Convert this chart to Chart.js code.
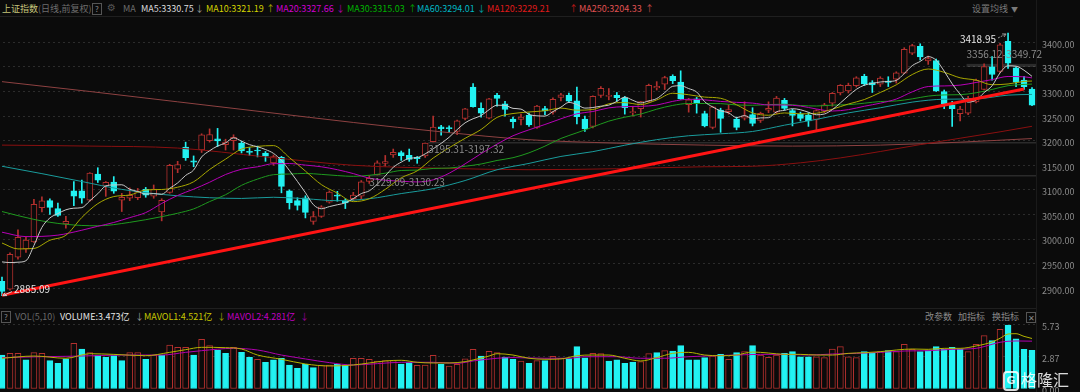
<!DOCTYPE html>
<html><head><meta charset="utf-8">
<script src="https://cdn.jsdelivr.net/npm/chart.js@4.4.0/dist/chart.umd.min.js"></script>
<style>
html,body{margin:0;padding:0;background:#0b0b0b;width:1080px;height:392px;overflow:hidden;position:relative;font-family:"Noto Sans CJK SC","Noto Sans",sans-serif;}
.t{position:absolute;font-size:9px;line-height:12px;white-space:nowrap;}
.box{position:absolute;border:1px solid #555;color:#8a8a8a;font-size:8px;line-height:9px;text-align:center;width:8px;height:10px;}
canvas{position:absolute;}
.ln{position:absolute;background:#1f1f1f;}
</style></head><body>
<div class="ln" style="left:0;top:16px;width:1013px;height:1px;"></div>
<div class="ln" style="left:0;top:308px;width:1037px;height:1px;"></div>
<div class="ln" style="left:1036px;top:0;width:1px;height:392px;background:#1a1a1a"></div>

<div class="t" style="left:2px;top:3px;color:#c6c67c">上证指数</div>
<div class="t" style="left:38px;top:3px;color:#6e6e6e">(日线,前复权)</div>
<div class="box" style="left:92px;top:3px;">?</div>
<div class="t" style="left:107px;top:2px;color:#555;font-family:'DejaVu Sans';font-size:10px">⚙</div>
<div class="t" style="left:123px;top:3px;color:#6e6e6e">MA</div>
<div class="t" style="left:141px;top:3px;color:#dcdcdc">MA5:3330.75</div>
<div class="t" style="left:195px;top:3px;color:#9a9a9a">↓</div>
<div class="t" style="left:206px;top:3px;color:#d4d400">MA10:3321.19</div>
<div class="t" style="left:266px;top:3px;color:#a0a000">↑</div>
<div class="t" style="left:276px;top:3px;color:#d000d0">MA20:3327.66</div>
<div class="t" style="left:336px;top:3px;color:#b000b0">↓</div>
<div class="t" style="left:347px;top:3px;color:#00b400">MA30:3315.03</div>
<div class="t" style="left:408px;top:3px;color:#009a00">↑</div>
<div class="t" style="left:417px;top:3px;color:#00b8c4">MA60:3294.01</div>
<div class="t" style="left:477px;top:3px;color:#00a0aa">↓</div>
<div class="t" style="left:487px;top:3px;color:#e01a1a">MA120:3229.21</div>
<div class="t" style="left:569px;top:3px;color:#c01818">↑</div>
<div class="t" style="left:579px;top:3px;color:#e05252">MA250:3204.33</div>
<div class="t" style="left:645px;top:3px;color:#c04848">↑</div>
<div class="t" style="left:972px;top:3px;color:#7a7a7a">设置均线</div>
<div class="t" style="left:1011px;top:3px;color:#7a7a7a;font-size:7px">▼</div>

<div class="box" style="left:1px;top:311px;">?</div>
<div class="t" style="left:15px;top:311px;color:#6a6a6a">VOL(5,10)</div>
<div class="t" style="left:60px;top:311px;color:#e6e6e6">VOLUME:3.473亿</div>
<div class="t" style="left:135px;top:311px;color:#9a9a9a">↓</div>
<div class="t" style="left:144px;top:311px;color:#c8c800">MAVOL1:4.521亿</div>
<div class="t" style="left:217px;top:311px;color:#a0a000">↓</div>
<div class="t" style="left:227px;top:311px;color:#c000c0">MAVOL2:4.281亿</div>
<div class="t" style="left:300px;top:311px;color:#a000a0">↓</div>
<div class="t" style="left:925px;top:311px;color:#8a8a8a">改参数</div>
<div class="t" style="left:958px;top:311px;color:#8a8a8a">加指标</div>
<div class="t" style="left:992px;top:311px;color:#8a8a8a">换指标</div>
<div class="box" style="left:1026px;top:312px;font-size:8px;line-height:9px;height:9px;">✕</div>

<canvas id="pc" width="1082" height="288" style="left:-2px;top:17px;"></canvas>
<canvas id="vc" width="1082" height="83" style="left:-2px;top:309px;"></canvas>

<div style="position:absolute;left:1003px;top:371px;width:12px;height:16px;border:2px solid rgba(255,255,255,0.85);border-radius:4px;color:rgba(255,255,255,0.85);font:bold 11px 'DejaVu Sans';line-height:16px;text-align:center;">G</div>
<div class="t" style="left:1021px;top:369px;font-size:16px;line-height:20px;color:rgba(255,255,255,0.85)">格隆汇</div>

<script>
// ---------- DATA ----------
const opens=[2914,2898,2963,2980,2994,3064,3078,3062,3031,3098,3098,3079,3132,3108,3116,3079,3083,3084,3101,3087,3055,3095,3142,3187,3159,3181,3200,3204,3192,3200,3195,3178,3180,3175,3155,3166,3098,3078,3084,3036,3046,3075,3089,3078,3082,3087,3117,3131,3154,3171,3176,3170,3166,3169,3198,3228,3226,3219,3245,3309,3266,3246,3292,3275,3244,3243,3252,3227,3265,3258,3288,3292,3281,3244,3229,3292,3290,3292,3287,3257,3265,3280,3307,3315,3331,3319,3273,3285,3255,3227,3262,3259,3244,3246,3253,3241,3262,3258,3282,3261,3254,3252,3243,3260,3276,3297,3301,3312,3331,3318,3315,3321,3325,3337,3378,3392,3362,3363,3300,3273,3255,3256,3279,3304,3350,3341,3402,3348,3323,3305];
const highs=[2923,2972,3019,3004,3081,3086,3082,3073,3046,3117,3120,3135,3145,3117,3127,3093,3104,3103,3105,3110,3082,3152,3158,3197,3169,3214,3224,3225,3203,3212,3199,3186,3189,3178,3171,3168,3100,3084,3088,3056,3068,3098,3097,3082,3095,3119,3129.09,3159,3170,3183,3179,3183,3168,3195.31,3250,3231,3230,3242,3266,3316,3277,3286,3296,3280,3248,3254,3256,3272,3270,3287,3296,3297,3309,3250,3291,3310,3306,3298,3290,3270,3280,3315,3320,3331,3334,3342,3286,3288,3260,3270,3266,3273,3248,3279,3267,3258,3279,3290,3286,3264,3258,3257,3263,3276,3298,3314,3317,3330,3335,3322,3330,3330,3340,3389,3396,3397,3372,3366,3303,3280,3270,3290,3325,3356,3371,3398,3418.95,3350,3331,3308];
const lows=[2885.09,2896,2959,2973,2993,3055,3050,3046,3022,3068,3073,3077,3115,3087,3093,3056,3078,3080,3085,3083,3037,3093,3135,3160,3147,3176,3197,3188,3181,3181,3175,3170,3167,3158,3150,3094,3061,3059,3043,3030,3044,3073,3077,3062,3078,3082,3113,3130.23,3148,3166,3160,3158,3154,3166,3197.32,3211,3217,3212,3242,3268,3248,3244,3270,3250,3226,3232,3229,3225,3253,3254,3281,3279,3234,3219,3226,3288,3283,3280,3254,3250,3248,3278,3303,3304,3316,3284,3258,3256,3228,3224,3217,3254,3222,3242,3230,3237,3257,3255,3262,3230,3240,3229,3222,3257,3270,3293,3297,3309,3312,3298,3310,3310,3317,3336,3375,3364,3355,3300,3265,3229,3240,3253,3277,3303,3323,3338,3347,3310,3304,3271];
const closes=[2893.48,2969.20,3003.37,2997.81,3070.80,3077.82,3064.49,3048.29,3036.13,3087.29,3083.40,3134.08,3119.98,3115.43,3097.24,3085.04,3088.94,3096.91,3089.31,3101.69,3078.55,3149.75,3151.34,3165.47,3156.14,3211.81,3212.53,3199.62,3197.35,3206.95,3179.04,3176.33,3179.05,3168.65,3167.86,3107.12,3073.77,3068.41,3054.43,3045.87,3065.56,3095.57,3087.40,3073.70,3089.26,3116.51,3123.52,3155.22,3157.64,3176.08,3169.51,3161.84,3163.45,3195.31,3227.59,3224.24,3224.41,3240.28,3264.81,3269.32,3255.67,3284.92,3285.67,3263.41,3238.70,3248.09,3232.11,3270.38,3260.67,3284.16,3293.28,3280.49,3249.03,3224.02,3290.34,3306.52,3291.15,3287.48,3267.16,3258.03,3279.61,3312.35,3310.65,3328.39,3322.03,3285.10,3283.25,3276.09,3230.08,3268.70,3245.31,3263.31,3226.89,3250.55,3234.91,3255.65,3265.65,3286.65,3265.65,3251.40,3245.38,3240.06,3261.25,3272.86,3296.40,3312.56,3312.63,3327.65,3315.36,3313.57,3327.18,3318.36,3338.15,3385.61,3393.33,3370.14,3367.06,3301.26,3275.41,3264.87,3264.10,3285.88,3323.27,3350.46,3334.50,3395.00,3357.67,3319.15,3309.55,3272.36];
const volumes=[3.04,3.19,3.19,2.60,3.25,3.19,2.54,2.30,2.69,4.09,3.58,3.25,3.04,2.84,2.98,2.54,3.25,3.25,2.66,3.04,3.04,3.94,3.73,3.73,3.04,4.45,3.88,3.49,3.19,3.73,3.28,2.84,2.66,2.39,2.60,2.75,2.15,1.85,2.21,1.91,2.15,2.15,2.21,2.15,2.75,
2.75,2.66,2.51,2.54,2.54,2.24,2.36,2.12,2.15,3.01,2.21,2.06,2.21,2.69,3.55,2.95,3.37,3.25,2.86,2.66,2.51,2.30,2.54,2.54,2.92,2.75,2.72,3.79,2.78,3.19,3.16,2.51,2.60,2.30,2.42,2.45,3.16,3.25,3.43,3.40,3.88,2.60,2.60,2.81,2.95,
3.10,2.66,3.25,3.34,3.88,3.04,2.84,3.04,3.19,3.34,2.89,2.89,2.89,2.81,3.58,3.79,2.89,2.81,3.34,3.19,3.34,3.43,3.34,4.00,3.55,3.34,3.43,3.79,3.55,3.73,3.58,3.34,4.00,4.77,4.33,5.34,5.73,4.48,3.55,3.47];
const volUp='011011000101000011010111011001001000000011001'+'111110011101111011001010110001100001101000001'+'0101011100001111110010111000000111010000';
const ma5=[2953.6,2952.2,2953.0,2956.0,2987.0,3023.8,3042.9,3051.8,3059.5,3062.8,3063.9,3077.8,3092.2,3108.0,3110.0,3110.4,3101.3,3096.7,3091.5,3092.4,3091.1,3103.2,3114.1,3129.4,3140.3,3166.9,3179.5,3189.1,3195.5,3205.7,3199.1,3191.9,3187.7,3182.0,3174.2,3159.8,3139.3,3117.2,3094.3,3069.9,3061.6,3066.0,3069.8,3073.6,3082.3,3092.5,3098.1,3111.6,3128.4,3145.8,3156.4,3164.1,3165.7,3173.2,3183.5,3194.5,3207.0,3222.4,3236.3,3244.6,3250.9,3263.0,3272.1,3271.8,3265.7,3264.2,3253.6,3250.5,3250.0,3259.1,3268.1,3277.8,3273.5,3266.2,3267.4,3270.1,3272.2,3279.9,3288.5,3282.1,3276.7,3280.9,3285.6,3297.8,3310.6,3311.7,3305.9,3299.0,3279.3,3268.6,3260.7,3256.7,3246.9,3251.0,3244.2,3246.3,3246.7,3258.7,3261.7,3265.0,3262.9,3257.8,3252.7,3254.2,3263.2,3276.6,3291.1,3304.4,3312.9,3316.4,3319.3,3320.4,3322.5,3336.6,3352.5,3361.1,3370.9,3363.5,3341.4,3315.7,3294.5,3278.3,3282.7,3297.7,3311.6,3337.8,3352.2,3351.4,3343.2,3330.75];
const ma10Pts=[[0,2992],[2,2980],[4,2981],[6,2997.6],[8,3007.8],[10,3043.9],[12,3072],[14,3086.4],[16,3089.6],[18,3099.8],[20,3100.8],[22,3105.4],[24,3116.4],[26,3141.4],[28,3162.5],[30,3183],[32,3188.4],[34,3190],[36,3165.6],[38,3138.2],[40,3110.7],[42,3093.5],[44,3076.1],[46,3082],[48,3101],[50,3124.5],[52,3138.7],[54,3164.7],[56,3185.6],[58,3204.8],[60,3222.7],[62,3247.3],[64,3255.2],[66,3258.3],[68,3260.9],[70,3266.2],[72,3262],[74,3263.3],[76,3275],[78,3277.4],[80,3273.4],[82,3282.8],[84,3296.4],[86,3293.4],[88,3288.6],[90,3286.2],[92,3273],[94,3256.4],[96,3251.7],[98,3256.4],[100,3254.6],[102,3255.7],[104,3264.1],[106,3274.5],[108,3283.6],[110,3298],[112,3313.5],[114,3334.5],[116,3345.7],[118,3339],[120,3327.8],[122,3323.1],[124,3313.7],[126,3315.3],[128,3320.5],[129,3321.19]];
const ma20Pts=[[0,3014],[3,3005],[7,3008],[10,3018],[12,3026],[14,3033.7],[16,3043.6],[18,3053.8],[20,3072.4],[22,3088.7],[24,3101.4],[26,3115.5],[28,3131.2],[30,3141.9],[32,3146.9],[34,3153.2],[36,3153.5],[38,3150.4],[40,3146.9],[42,3141],[44,3133.1],[46,3123.8],[48,3119.6],[50,3117.6],[52,3116.1],[54,3120.4],[56,3133.8],[58,3152.9],[60,3173.6],[62,3193],[64,3210],[66,3222],[68,3232.9],[70,3244.5],[72,3254.7],[74,3259.3],[76,3266.7],[78,3269.2],[80,3269.8],[82,3272.4],[84,3279.9],[86,3284.2],[88,3283],[90,3279.8],[92,3277.9],[94,3276.4],[96,3272.6],[98,3272.5],[100,3270.4],[102,3264.4],[104,3260.3],[106,3263.1],[108,3270],[110,3276.3],[112,3284.6],[114,3299.3],[116,3310.1],[118,3311.3],[120,3312.9],[122,3318.3],[124,3324.1],[126,3330.5],[128,3329.8],[129,3327.66]];
const ma30Pts=[[0,3056],[4,3040],[8,3030],[12,3027],[16,3034],[20,3045.6],[22,3052.5],[24,3061.3],[26,3076.2],[28,3090.1],[30,3109.2],[32,3121.9],[34,3130.9],[36,3132.2],[38,3133.5],[40,3131.5],[42,3129.1],[44,3127.5],[46,3129.7],[48,3133.9],[50,3139.4],[52,3140.2],[54,3143.6],[56,3144.4],[58,3148],[60,3152.6],[62,3159.8],[64,3165.4],[66,3175.3],[68,3188.9],[70,3204.5],[72,3216],[74,3227.8],[76,3239.7],[78,3247.7],[80,3254.1],[82,3264],[84,3271.7],[86,3275.6],[88,3275.6],[90,3275.3],[92,3272.6],[94,3272],[96,3273.4],[98,3274.1],[100,3271.4],[102,3270.5],[104,3272.3],[106,3273.2],[108,3276.2],[110,3279.6],[112,3280.7],[114,3285],[116,3290.6],[118,3293],[120,3293.5],[122,3297.4],[124,3304.1],[126,3311.8],[128,3314.4],[129,3315.03]];
const ma60Pts=[[0,3148],[5,3133],[10,3117],[15,3101],[22,3088],[30,3082.6],[34,3085],[38,3082],[42,3078],[46,3082],[50,3092.5],[54,3102.5],[58,3119],[62,3140.9],[66,3153.8],[70,3168],[74,3177.7],[78,3190.8],[82,3202.1],[86,3210],[90,3214],[94,3218.7],[98,3231.5],[102,3243.3],[106,3256.5],[110,3266.9],[114,3278.4],[118,3284.3],[122,3285],[126,3292.6],[129,3294.01]];
const ma120Pts=[[0,3191],[11,3189],[22,3185],[33,3167],[44,3150],[55,3144],[66,3141],[77,3143],[88,3147],[94,3148],[100,3155],[105,3165],[110,3178],[115,3192],[120,3205],[125,3218],[129,3229.21]];
const ma250Pts=[[0,3320],[11,3300],[22,3279],[33,3258],[44,3237],[55,3218],[66,3202],[77,3195],[88,3191],[99,3189],[110,3191],[120,3197],[129,3204.33]];
const mavol1Pts=[[0,2.75],[4,2.95],[8,2.75],[11,3.16],[14,3.10],[18,2.98],[21,3.28],[23,3.52],[25,3.73],[28,3.70],[30,3.58],[32,3.04],[35,2.66],[38,2.24],[41,2.06],[44,2.15],[46,2.33],[48,2.51],[50,2.57],[52,2.39],[54,2.33],[56,2.33],[58,2.45],[59,2.60],[61,2.95],[62,3.16],[64,3.04],[66,2.75],[68,2.66],[70,2.69],[72,2.98],[74,3.04],[76,3.04],[78,2.75],[80,2.51],[82,2.81],[84,3.19],[86,3.28],[88,3.04],[90,2.98],[92,3.04],[94,3.31],[96,3.22],[98,3.10],[100,3.10],[102,3.04],[104,3.04],[106,3.19],[108,3.25],[110,3.34],[112,3.49],[114,3.58],[116,3.55],[118,3.64],[120,3.64],[122,3.85],[124,4.21],[125,4.54],[126,4.92],[127,4.95],[128,4.71],[129,4.521]];
const mavol2Pts=[[0,2.81],[5,2.89],[10,2.95],[15,3.04],[20,3.04],[23,3.28],[25,3.43],[29,3.64],[32,3.49],[35,3.04],[38,2.69],[41,2.36],[44,2.15],[47,2.27],[50,2.39],[54,2.39],[57,2.30],[59,2.51],[62,2.75],[64,2.81],[68,2.75],[71,2.75],[73,2.89],[77,2.89],[80,2.75],[83,2.75],[86,2.89],[89,2.98],[92,3.04],[95,3.10],[98,3.10],[101,3.04],[104,3.13],[107,3.19],[110,3.28],[113,3.40],[116,3.43],[119,3.55],[122,3.64],[124,4.00],[125,4.18],[126,4.27],[127,4.30],[129,4.281]];
const trendPts=[[0,2886],[128,3305]];
const gaps=[{from:46,lo:3129.09,hi:3130.23,text:'3129.09-3130.23',dy:7},{from:53.4,lo:3195.31,hi:3197.32,text:'3195.31-3197.32',dy:7},{from:120.8,lo:3349.72,hi:3356.12,text:'3356.12-3349.72',dy:-10}];
const priceTicks=[2900,2950,3000,3050,3100,3150,3200,3250,3300,3350,3400];
const volTicks=[0,2.87,5.73];
const hiIdx=126, loIdx=0;

// ---------- BUILD ----------
const N=closes.length;
const cats=closes.map((_,i)=>i);
const BG='#0b0b0b', RED='#b3302e', CYAN='#22f2f2';
function sparse(p){const a=new Array(N).fill(null);p.forEach(([k,v])=>a[k]=v);return a;}
const up=closes.map((c,i)=>c>=opens[i]);
const FONT="'Noto Sans CJK SC','Noto Sans',sans-serif";
Chart.defaults.font.family=FONT;
Chart.defaults.font.size=9;

function line(data,color,w,order){return {type:'line',data,borderColor:color,borderWidth:w||1,pointRadius:0,spanGaps:true,cubicInterpolationMode:'monotone',fill:false,order:order||0};}
function fixAxis(s){s.width=44;s.paddingTop=0;s.paddingBottom=0;}

const annot={
  id:'annot',
  beforeDatasetsDraw(chart){
    const {ctx,chartArea:a,scales:{x,y}}=chart;
    ctx.save();
    gaps.forEach(g=>{
      const x0=x.getPixelForValue(g.from);
      const y0=y.getPixelForValue(g.hi), y1=y.getPixelForValue(g.lo);
      ctx.fillStyle='rgba(160,160,160,0.22)';
      ctx.fillRect(x0,y0,a.right-x0,Math.max(1.5,y1-y0));
    });
    ctx.restore();
  },
  afterDatasetsDraw(chart){
    const {ctx,scales:{x,y}}=chart;
    ctx.save();
    ctx.font="10px "+FONT;
    ctx.textBaseline='middle';
    gaps.forEach(g=>{
      const x0=x.getPixelForValue(g.from);
      const yb=y.getPixelForValue(g.hi);
      ctx.fillStyle='#8a8a8a';
      ctx.textAlign='left';
      ctx.fillText(g.text,x0,yb+g.dy);
    });
    // high label
    const hx=x.getPixelForValue(hiIdx), hy=y.getPixelForValue(highs[hiIdx]);
    ctx.fillStyle='#e4e4e4';ctx.textAlign='right';
    ctx.fillText(highs[hiIdx].toFixed(2),hx-12,hy+6);
    ctx.strokeStyle='#9a9a9a';ctx.lineWidth=1;ctx.setLineDash([2,1]);
    ctx.beginPath();ctx.moveTo(hx-10,hy+5);ctx.lineTo(hx-2,hy+1);ctx.stroke();
    ctx.setLineDash([]);
    ctx.beginPath();ctx.moveTo(hx-2,hy+1);ctx.lineTo(hx-6,hy+1);ctx.moveTo(hx-2,hy+1);ctx.lineTo(hx-4,hy+4);ctx.stroke();
    // low label
    const lx=x.getPixelForValue(loIdx), ly=y.getPixelForValue(lows[loIdx]);
    ctx.fillStyle='#e4e4e4';ctx.textAlign='left';
    ctx.fillText(lows[loIdx].toFixed(2),lx+12,ly-6);
    ctx.strokeStyle='#cfcfcf';
    ctx.beginPath();ctx.moveTo(lx+10,ly-4);ctx.lineTo(lx+1,ly);ctx.stroke();
    ctx.beginPath();ctx.moveTo(lx+1,ly);ctx.lineTo(lx+5,ly);ctx.moveTo(lx+1,ly);ctx.lineTo(lx+3,ly-3);ctx.stroke();
    ctx.restore();
  }
};

new Chart(document.getElementById('pc'),{
  type:'bar',
  data:{labels:cats,datasets:[
    line(sparse(trendPts),'#ff1414',3,-3),
    line(ma5,'#c9c9c9',1,-2),
    line(sparse(ma10Pts),'#a8a800',1,-2),
    line(sparse(ma20Pts),'#b800b8',1,-2),
    line(sparse(ma30Pts),'#1f9a1f',1,-2),
    line(sparse(ma60Pts),'#1a9c9c',1,-2),
    line(sparse(ma120Pts),'#8a1010',1,-2),
    line(sparse(ma250Pts),'#8e4242',1,-2),
    {type:'bar',data:closes.map((c,i)=>[opens[i],c]),backgroundColor:up.map(u=>u?BG:CYAN),borderColor:up.map(u=>u?RED:CYAN),borderWidth:1,borderSkipped:false,barThickness:6,minBarLength:1,grouped:false,order:1},
    {type:'bar',data:lows.map((l,i)=>[l,highs[i]]),backgroundColor:up.map(u=>u?RED:CYAN),borderWidth:0,barThickness:1,grouped:false,order:2}
  ]},
  options:{
    responsive:false,maintainAspectRatio:false,animation:false,devicePixelRatio:1,events:[],
    layout:{padding:0},
    plugins:{legend:{display:false},tooltip:{enabled:false}},
    scales:{
      x:{display:false,grid:{display:false}},
      y:{position:'right',min:2866,max:3451.4,bounds:'data',
         afterBuildTicks:s=>{s.ticks=priceTicks.map(v=>({value:v}));},
         afterFit:fixAxis,
         grid:{color:'#2c2c2c',drawTicks:false},
         border:{display:false,dash:[2,3]},
         ticks:{color:'#8c8c8c',padding:6,labelOffset:2,callback:v=>Number(v).toFixed(2),font:{size:9}}}
    }
  },
  plugins:[annot]
});

new Chart(document.getElementById('vc'),{
  type:'bar',
  data:{labels:cats,datasets:[
    line(sparse(mavol1Pts),'#b4b400',1,-1),
    line(sparse(mavol2Pts),'#b000b0',1,-1),
    {type:'bar',data:volumes,backgroundColor:volumes.map((_,i)=>volUp[i]==='1'?BG:CYAN),borderColor:volumes.map((_,i)=>volUp[i]==='1'?RED:CYAN),borderWidth:1,borderSkipped:false,barThickness:6,grouped:false,order:1}
  ]},
  options:{
    responsive:false,maintainAspectRatio:false,animation:false,devicePixelRatio:1,events:[],
    layout:{padding:{bottom:3}},
    plugins:{legend:{display:false},tooltip:{enabled:false}},
    scales:{
      x:{display:false,grid:{display:false}},
      y:{position:'right',min:0,max:7.16,bounds:'data',
         afterBuildTicks:s=>{s.ticks=volTicks.map(v=>({value:v}));},
         afterFit:fixAxis,
         grid:{color:c=>c.tick&&c.tick.value===0?'rgba(0,0,0,0)':'#2c2c2c',drawTicks:false},
         border:{display:false,dash:[2,3]},
         ticks:{color:'#8c8c8c',padding:6,labelOffset:2,callback:v=>Number(v).toFixed(2),font:{size:9}}}
    }
  }
});
</script>
</body></html>
